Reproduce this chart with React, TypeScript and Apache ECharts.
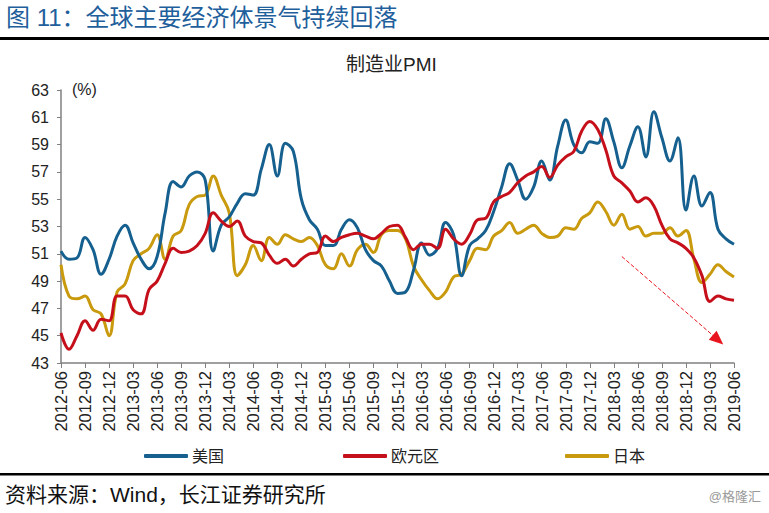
import React, { useEffect, useRef } from "react";
import * as echarts from "echarts";

const months: string[] = [];
for (let y = 2012; y <= 2019; y++) {
  for (let m = 1; m <= 12; m++) {
    if ((y === 2012 && m < 6) || (y === 2019 && m > 6)) continue;
    months.push(`${y}-${m < 10 ? "0" + m : m}`);
  }
}

const usPMI = [
  51.2, 50.6, 50.7, 52.2, 51.3, 49.5, 50.6, 52.3, 53.1, 51.8, 50.6, 49.9,
  50.8, 54.0, 56.3, 55.9, 56.7, 57.0, 56.4, 51.2, 53.1, 53.7, 54.7, 55.4,
  55.3, 57.2, 59.0, 56.7, 59.1, 58.5, 55.0, 53.5, 52.8, 51.6, 51.6, 52.8,
  53.5, 52.9, 51.3, 50.5, 50.1, 49.0, 48.1, 48.2, 49.8, 51.8, 50.9, 51.4,
  53.3, 52.4, 49.4, 51.6, 52.1, 52.7, 54.1, 55.9, 57.6, 56.4, 55.0, 55.9,
  57.8, 56.4, 58.9, 60.8, 59.0, 58.4, 59.2, 59.1, 60.9, 59.2, 57.3, 58.9,
  60.3, 58.1, 61.4, 59.5, 57.8, 59.5, 54.2, 56.7, 54.5, 55.5, 52.8, 52.1,
  51.7,
];

const euroPMI = [
  45.2, 44.0, 45.0, 46.1, 45.4, 46.2, 46.1, 47.9, 47.9, 46.9, 46.6, 48.4,
  49.0, 50.3, 51.4, 51.1, 51.2, 51.6, 52.5, 54.0, 53.4, 53.0, 53.4, 52.3,
  51.9, 51.8, 50.9, 50.3, 50.6, 50.1, 50.6, 51.0, 51.1, 52.3, 51.9, 52.2,
  52.4, 52.5, 52.3, 52.1, 52.5, 53.0, 53.1, 52.2, 51.3, 51.7, 51.7, 51.4,
  52.8, 52.1, 51.7, 52.4, 53.5, 53.6, 54.8, 55.2, 55.5, 56.2, 56.7, 57.0,
  57.4, 56.6, 57.5, 58.1, 58.5, 60.0, 60.7, 60.1, 58.6, 56.7, 56.2, 55.6,
  54.8, 55.1, 54.5, 53.1, 52.1, 51.8, 51.4, 50.7, 49.4, 47.5, 47.9, 47.7,
  47.6,
];

const japanPMI = [
  50.2, 47.9, 47.7, 47.9, 46.9, 46.6, 45.0, 48.2, 48.8, 50.5, 51.0, 51.4,
  52.4, 50.6, 52.3, 52.7, 54.6, 55.2, 55.3, 56.7, 55.3, 54.0, 49.4, 50.2,
  51.6, 50.5, 52.2, 51.7, 52.4, 52.1, 51.9, 52.2, 51.6, 50.2, 49.9, 51.0,
  50.1, 51.3, 51.7, 51.1, 52.4, 52.7, 52.7, 52.1, 50.1, 49.1, 48.3, 47.7,
  48.2, 49.3, 49.5, 50.5, 51.4, 51.3, 52.3, 52.7, 53.3, 52.5, 52.8, 53.1,
  52.5, 52.2, 52.3, 52.9, 52.8, 53.6, 54.0, 54.8, 54.1, 53.1, 53.9, 52.8,
  53.0, 52.3, 52.5, 52.5, 52.9, 52.3, 52.7, 50.6, 48.9, 49.5, 50.2, 49.7,
  49.3,
];

const seriesNames = ["美国", "欧元区", "日本"];
const seriesColors = ["#15608F", "#C5101B", "#C99A0E"];
const yTicks = { min: 43, max: 63, interval: 2 };
const arrowFrom = { month: "2018-04", value: 50.8 };
const arrowTo = { month: "2019-04", value: 44.7 };

const FONT = '"Liberation Sans", "Noto Sans CJK SC", sans-serif';

export default function App() {
  const ref = useRef<HTMLDivElement>(null);
  useEffect(() => {
    document.body.style.margin = "0";
    const chart = echarts.init(ref.current!, undefined, { renderer: "svg" });
    const data = [usPMI, euroPMI, japanPMI];
    const legendLefts = [139, 338, 560];
    chart.setOption({
      animation: false,
      backgroundColor: "#ffffff",
      textStyle: { fontFamily: FONT },
      title: {
        text: "制造业PMI",
        left: 341,
        top: 50,
        textStyle: { fontFamily: FONT, fontSize: 19, fontWeight: "normal", color: "#222" },
      },
      legend: seriesNames.map((n, i) => ({
        data: [n],
        left: legendLefts[i],
        top: 443,
        icon: "roundRect",
        itemWidth: 44,
        itemHeight: 4,
        itemGap: 4,
        textStyle: { fontFamily: FONT, fontSize: 16, color: "#222", padding: [0, 0, 0, -1] },
        selectedMode: false,
      })),
      grid: { left: 61, right: 35, top: 90, bottom: 150, containLabel: false },
      xAxis: {
        type: "category",
        data: months,
        boundaryGap: false,
        axisLine: { lineStyle: { color: "#808080", width: 1.5 } },
        axisTick: { interval: 2, length: 5, lineStyle: { color: "#808080" } },
        axisLabel: {
          interval: 2,
          rotate: 90,
          fontSize: 16.5,
          color: "#222",
          fontFamily: FONT,
          margin: 8,
        },
        splitLine: { show: false },
      },
      yAxis: {
        type: "value",
        min: yTicks.min,
        max: yTicks.max,
        interval: yTicks.interval,
        axisLine: { show: true, lineStyle: { color: "#808080", width: 1.5 } },
        axisTick: { show: true, length: 4, lineStyle: { color: "#808080" } },
        axisLabel: { fontSize: 16, color: "#222", fontFamily: FONT, margin: 12 },
        splitLine: { show: false },
      },
      series: seriesNames.map((n, i) => ({
        name: n,
        type: "line",
        data: data[i],
        smooth: 0.4,
        showSymbol: false,
        symbol: "none",
        lineStyle: { width: 3, color: seriesColors[i] },
        itemStyle: { color: seriesColors[i] },
        emphasis: { disabled: true },
        z: i === 0 ? 3 : i === 1 ? 4 : 2,
        markLine:
          i === 1
            ? {
                silent: true,
                symbol: ["none", "triangle"],
                symbolSize: [12, 14],
                label: { show: false },
                lineStyle: { type: "dashed", color: "#E8141E", width: 1 },
                emphasis: { disabled: true },
                data: [
                  [
                    { coord: [arrowFrom.month, arrowFrom.value] },
                    { coord: [arrowTo.month, arrowTo.value] },
                  ],
                ],
              }
            : undefined,
      })),
      graphic: [
        {
          type: "text",
          left: 6,
          top: 5,
          style: {
            text: "图 11：全球主要经济体景气持续回落",
            fill: "#1F5F9C",
            font: `24px ${FONT}`,
          },
        },
        { type: "rect", shape: { x: 0, y: 37, width: 769, height: 3 }, style: { fill: "#000" } },
        { type: "rect", shape: { x: 0, y: 473, width: 769, height: 2.5 }, style: { fill: "#000" } },
        {
          type: "text",
          left: 5,
          top: 484,
          style: { text: "资料来源：Wind，长江证券研究所", fill: "#111", font: `21px ${FONT}` },
        },
        {
          type: "text",
          right: 8,
          top: 490,
          style: { text: "@格隆汇", fill: "#9a9a9a", font: `13px ${FONT}` },
        },
        {
          type: "text",
          left: 72,
          top: 81,
          style: { text: "(%)", fill: "#222", font: `16px ${FONT}` },
        },
      ],
    });
    return () => chart.dispose();
  }, []);
  return (
    <div
      ref={ref}
      style={{ position: "fixed", left: 0, top: 0, width: 769, height: 513, background: "#fff" }}
    />
  );
}
